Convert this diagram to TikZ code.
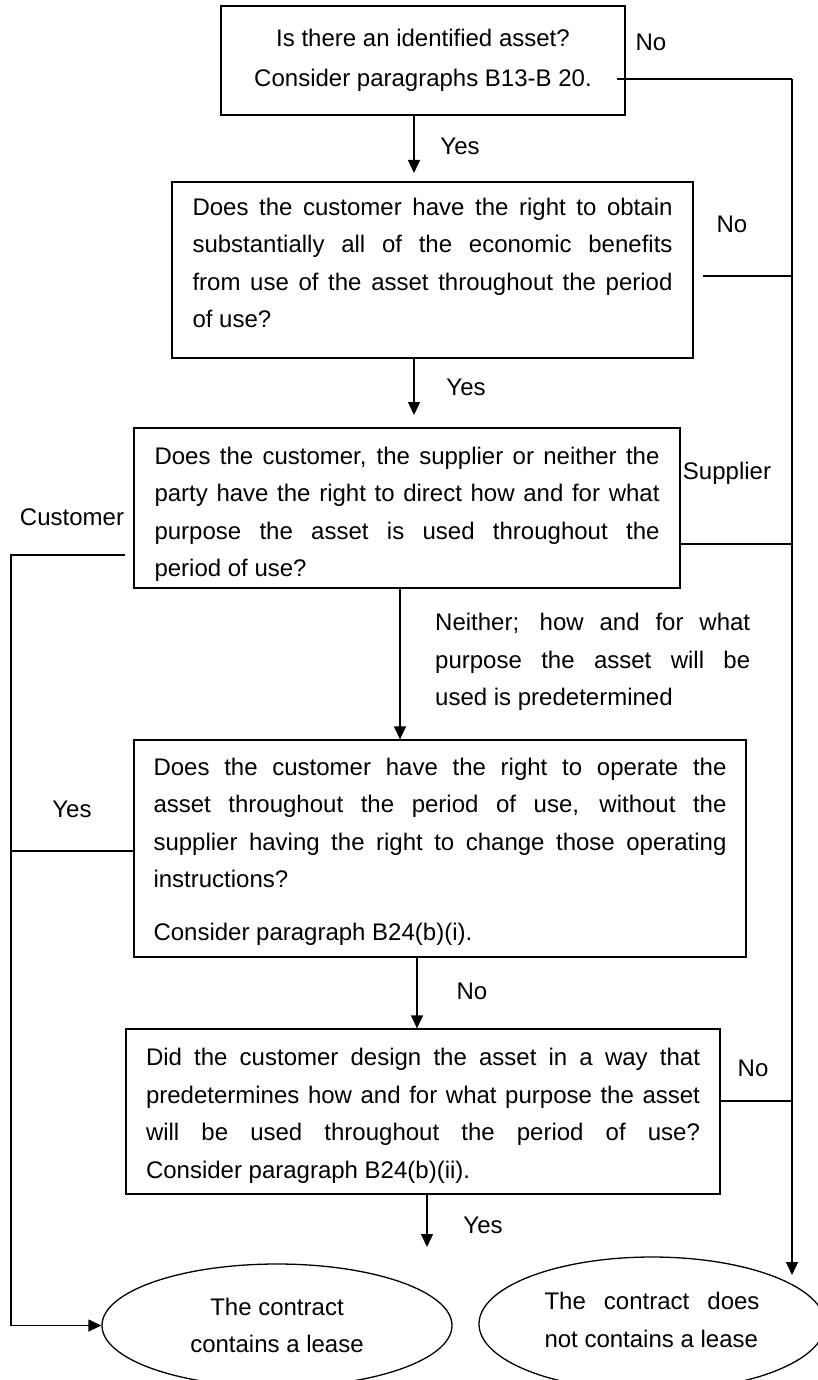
\documentclass[tikz,border=0pt]{standalone}
\usepackage{fontspec}
\setmainfont{Liberation Sans}
\usetikzlibrary{arrows.meta,shapes.geometric}
\begin{document}
\begin{tikzpicture}[x=1pt, y=-1pt]
  \useasboundingbox (0,0) rectangle (818,1380);  % page size
  \clip (0,0) rectangle (818,1380);
  \tikzstyle{txt}=[font=\fontsize{24}{37.5}\selectfont, inner sep=0pt]
  \tikzstyle{box}=[draw, line width=1.3pt, rectangle, txt, align=justify]
  \tikzstyle{oval}=[draw, line width=1.3pt, ellipse, txt, align=center]
  \tikzstyle{line}=[line width=1.3pt]
  \tikzstyle{arr}=[line, -{Triangle[length=13pt, width=12pt]}]

  \node[box, align=center, minimum width=404pt, minimum height=109pt] (asset) at (423,60.5)
    {Is there an identified asset?\\[2.5pt]Consider paragraphs B13-B 20.};
  \node[box, text width=480pt, inner xsep=20.5pt, minimum height=176pt] (benefit) at (432.5,270)
    {Does the customer have the right to obtain\linebreak substantially all of the economic benefits\linebreak from use of the asset throughout the period\linebreak of use?\rule[-14pt]{0pt}{1pt}};
  \node[box, text width=505pt, inner xsep=20.5pt, minimum height=160pt] (direct) at (407,508)
    {\rule{0pt}{29.5pt}Does the customer, the supplier or neither the\linebreak party have the right to direct how and for what\linebreak purpose the asset is used throughout the\linebreak period of use?};
  \node[box, text width=573pt, inner xsep=19.5pt, minimum height=217pt] (operate) at (440,848.5)
    {\rule{0pt}{23.5pt}Does the customer have the right to operate the\linebreak asset throughout the period of use, without the\linebreak supplier having the right to change those operating\linebreak instructions?\\[15pt]Consider paragraph B24(b)(i).};
  \node[box, text width=554pt, inner xsep=20pt, minimum height=165pt] (design) at (423,1111.5)
    {\rule{0pt}{25.5pt}Did the customer design the asset in a way that\linebreak predetermines how and for what purpose the asset\linebreak will be used throughout the period of use?\linebreak Consider paragraph B24(b)(ii).};

  \node[oval, minimum width=350pt, minimum height=123pt] (lease) at (277,1325.5)
    {The contract\\contains a lease};
  \node[oval, text width=215pt, align=justify, minimum width=346pt, minimum height=134pt] (nolease) at (652,1324)
    {The contract does\linebreak not contains a lease\rule[-8pt]{0pt}{1pt}};

  % labels
  \node[txt] (no1) at (651,42) {No};
  \node[txt] (yes1) at (460,146) {Yes};
  \node[txt] (no2) at (732,224) {No};
  \node[txt] (yes2) at (466,387) {Yes};
  \node[txt] (supplier) at (727,473) {Supplier};
  \node[txt] (customer) at (72,517) {Customer};
  \node[txt, text width=315pt, align=justify, anchor=west] (neither) at (435,662)
    {Neither; how and for what\linebreak purpose the asset will be\linebreak used is predetermined};
  \node[txt] (yes3) at (72,809) {Yes};
  \node[txt] (no3) at (472,991) {No};
  \node[txt] (no4) at (753,1068) {No};
  \node[txt] (yes4) at (483,1225) {Yes};

  \coordinate (noA) at (792,79);
  \coordinate (noEnd) at (792,1275);
  \coordinate (custTurn) at (11,555);
  \coordinate (t1) at (414,173);
  \coordinate (t2) at (414,415);
  \coordinate (t3) at (400,660);
  \coordinate (t4) at (417,990);
  \coordinate (t5) at (427,1247);

  % down the middle
  \draw[arr] (asset.south -| t1) -- (t1);
  \draw[arr] (benefit.south -| t2) -- (t2);
  \draw[arr] (direct.south -| t3) -- (operate.north -| t3);
  \draw[arr] (operate.south -| t4) -- (design.north -| t4);
  \draw[arr] (design.south -| t5) -- (t5);

  % right side: no lease
  \draw[line] ([xshift=-9pt]asset.east |- noA) -- (noA);
  \draw[arr] (noA) -- (noEnd);
  \draw[line] ([xshift=9pt,yshift=-6pt]benefit.east) -- ([yshift=-6pt]benefit.east -| noA);
  \draw[line] ([yshift=-36pt]direct.east) -- ([yshift=-36pt]direct.east -| noA);
  \draw[line] ([yshift=10.5pt]design.east) -- ([yshift=10.5pt]design.east -| noA);

  % left side: lease
  \draw[arr] ([xshift=-8pt,yshift=-47pt]direct.west) -- (custTurn) |- (lease.west);
  \draw[line] ([yshift=-2.5pt]operate.west) -- ([yshift=-2.5pt]operate.west -| custTurn);
\end{tikzpicture}
\end{document}
